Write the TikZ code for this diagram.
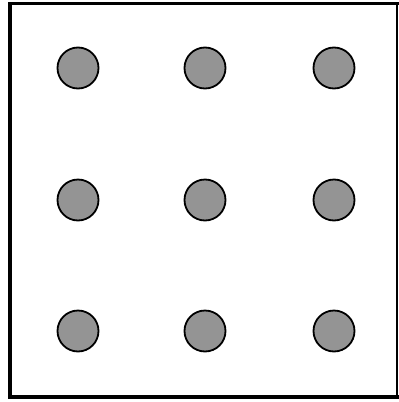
\documentclass[tikz,border=0pt]{standalone}
\begin{document}
\begin{tikzpicture}[x=1pt,y=-1pt,
  dot/.style={circle,draw=black,line width=1.8pt,fill=black!42,minimum size=41pt,inner sep=0pt},
  frameline/.style={line width=3.4pt,line cap=rect}]
\useasboundingbox (0,0) rectangle (399,402);
\coordinate (tl) at (10,3.5);
\coordinate (tr) at (397,3.5);
\coordinate (bl) at (10,397);
\coordinate (br) at (397,397);
\draw[frameline] (tr) -- (tl) -- (bl) -- (br);
\draw[line width=1.8pt] (tr) -- (br);
\node[dot] (a1) at (78,68) {};
\node[dot] (a2) at (205,68) {};
\node[dot] (a3) at (334,68) {};
\node[dot] (b1) at (78,200) {};
\node[dot] (b2) at (205,200) {};
\node[dot] (b3) at (334,200) {};
\node[dot] (c1) at (78,331) {};
\node[dot] (c2) at (205,331) {};
\node[dot] (c3) at (334,331) {};
\end{tikzpicture}
\end{document}
